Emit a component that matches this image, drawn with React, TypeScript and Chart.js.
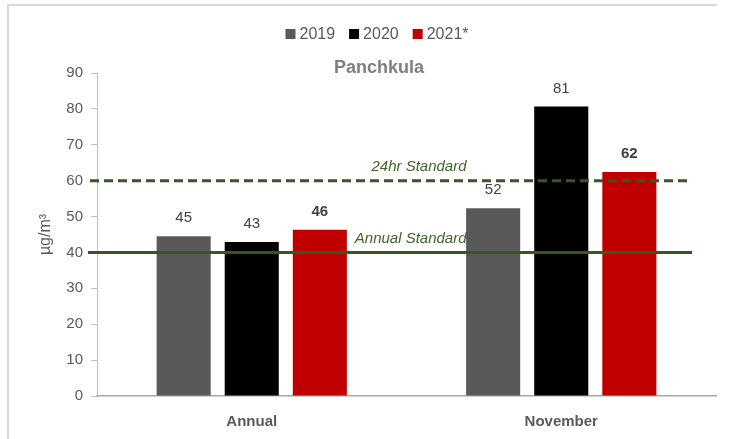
import React, { useEffect, useRef } from "react";
import { Chart, registerables } from "chart.js";

Chart.register(...registerables);

const categories = ["Annual", "November"];
const seriesNames = ["2019", "2020", "2021*"];
const values2019 = [44.5, 52.3];
const values2020 = [42.9, 80.7];
const values2021 = [46.3, 62.4];
const seriesColors = ["#595959", "#000000", "#C00000"];
const standardValues = [60, 40];
const standardLabels = ["24hr Standard", "Annual Standard"];
const yTicksMax = 90;
const yStep = 10;
const chartTitle = "Panchkula";
const yAxisTitle = "µg/m³";

const FONT = "'Liberation Sans', Arial, sans-serif";
const GREEN = "#375623";

const decorPlugin = {
  id: "decor",
  beforeDraw(chart: any) {
    const ctx = chart.ctx;
    ctx.save();
    ctx.fillStyle = "#ffffff";
    ctx.fillRect(0, 0, chart.width, chart.height);
    ctx.strokeStyle = "#d9d9d9";
    ctx.lineWidth = 2;
    ctx.beginPath();
    ctx.moveTo(8, chart.height);
    ctx.lineTo(8, 5);
    ctx.lineTo(717, 5);
    ctx.stroke();

    // legend
    ctx.font = `16px ${FONT}`;
    ctx.textBaseline = "middle";
    const box = 10, gapBox = 4, gapItem = 14;
    const widths = seriesNames.map((n) => ctx.measureText(n).width);
    const total = widths.reduce((a, w) => a + box + gapBox + w, 0) + gapItem * (seriesNames.length - 1);
    let x = 377 - total / 2;
    const ly = 34;
    seriesNames.forEach((n, i) => {
      ctx.fillStyle = seriesColors[i];
      ctx.fillRect(x, ly - box / 2, box, box);
      x += box + gapBox;
      ctx.fillStyle = "#595959";
      ctx.textAlign = "left";
      ctx.fillText(n, x, ly + 1);
      x += widths[i] + gapItem;
    });

    // title
    ctx.font = `bold 18px ${FONT}`;
    ctx.fillStyle = "#7f7f7f";
    ctx.textAlign = "center";
    ctx.fillText(chartTitle, 379, 68);
    ctx.restore();
  },
  afterDatasetsDraw(chart: any) {
    const ctx = chart.ctx;
    const area = chart.chartArea;
    const y = chart.scales.y;
    ctx.save();
    // standard lines
    standardValues.forEach((v, i) => {
      const py = y.getPixelForValue(v);
      ctx.strokeStyle = GREEN;
      ctx.lineWidth = 3;
      ctx.setLineDash(i === 0 ? [9, 5] : []);
      ctx.beginPath();
      ctx.moveTo(area.left - (i === 0 ? 7 : 9), py);
      ctx.lineTo(area.right - 24, py);
      ctx.stroke();
      ctx.setLineDash([]);
      ctx.font = `italic 15px ${FONT}`;
      ctx.fillStyle = "#3f6328";
      ctx.textAlign = "right";
      ctx.textBaseline = "middle";
      ctx.fillText(standardLabels[i], area.left + (area.right - area.left) * 0.597, py - 14);
    });
    // data labels
    chart.data.datasets.forEach((ds: any, di: number) => {
      const meta = chart.getDatasetMeta(di);
      meta.data.forEach((el: any, j: number) => {
        ctx.font = `${di === 2 ? "bold " : ""}15px ${FONT}`;
        ctx.fillStyle = "#404040";
        ctx.textAlign = "center";
        ctx.textBaseline = "middle";
        ctx.fillText(String(Math.round(ds.data[j])), el.x, el.y - 18);
      });
    });
    ctx.restore();
  },
};

export default function App() {
  const ref = useRef<HTMLCanvasElement | null>(null);
  useEffect(() => {
    if (!ref.current) return;
    const chart = new Chart(ref.current, {
      type: "bar",
      data: {
        labels: categories,
        datasets: [
          { label: seriesNames[0], data: values2019, backgroundColor: seriesColors[0] },
          { label: seriesNames[1], data: values2020, backgroundColor: seriesColors[1] },
          { label: seriesNames[2], data: values2021, backgroundColor: seriesColors[2] },
        ],
      },
      options: {
        animation: false,
        responsive: false,
        maintainAspectRatio: false,
        datasets: { bar: { barPercentage: 0.794, categoryPercentage: 0.66 } },
        layout: { padding: { left: 0, right: 13, top: 73, bottom: 0 } },
        plugins: { legend: { display: false }, title: { display: false }, tooltip: { enabled: false } },
        scales: {
          x: {
            grid: { display: false, drawTicks: false },
            border: { display: true, color: "#a6a6a6", width: 1.5 },
            ticks: { padding: 17, color: "#595959", font: { family: FONT, size: 15, weight: "bold" } },
            afterFit: (s: any) => { s.height = 43; },
          },
          y: {
            min: 0,
            max: yTicksMax,
            ticks: { stepSize: yStep, padding: 8, color: "#595959", font: { family: FONT, size: 15 } },
            grid: { drawOnChartArea: false, drawTicks: true, tickLength: 6, color: "#bfbfbf" },
            border: { display: true, color: "#bfbfbf", width: 1 },
            title: {
              display: true,
              text: yAxisTitle,
              color: "#595959",
              font: { family: FONT, size: 16 },
              padding: { top: 36, bottom: 0 },
            },
            afterFit: (s: any) => { s.width = 97; },
          },
        },
      } as any,
      plugins: [decorPlugin],
    });
    return () => chart.destroy();
  }, []);
  return (
    <div style={{ position: "fixed", left: 0, top: 0, width: 729, height: 439 }}>
      <canvas ref={ref} width={729} height={439} style={{ width: 729, height: 439 }} />
    </div>
  );
}
